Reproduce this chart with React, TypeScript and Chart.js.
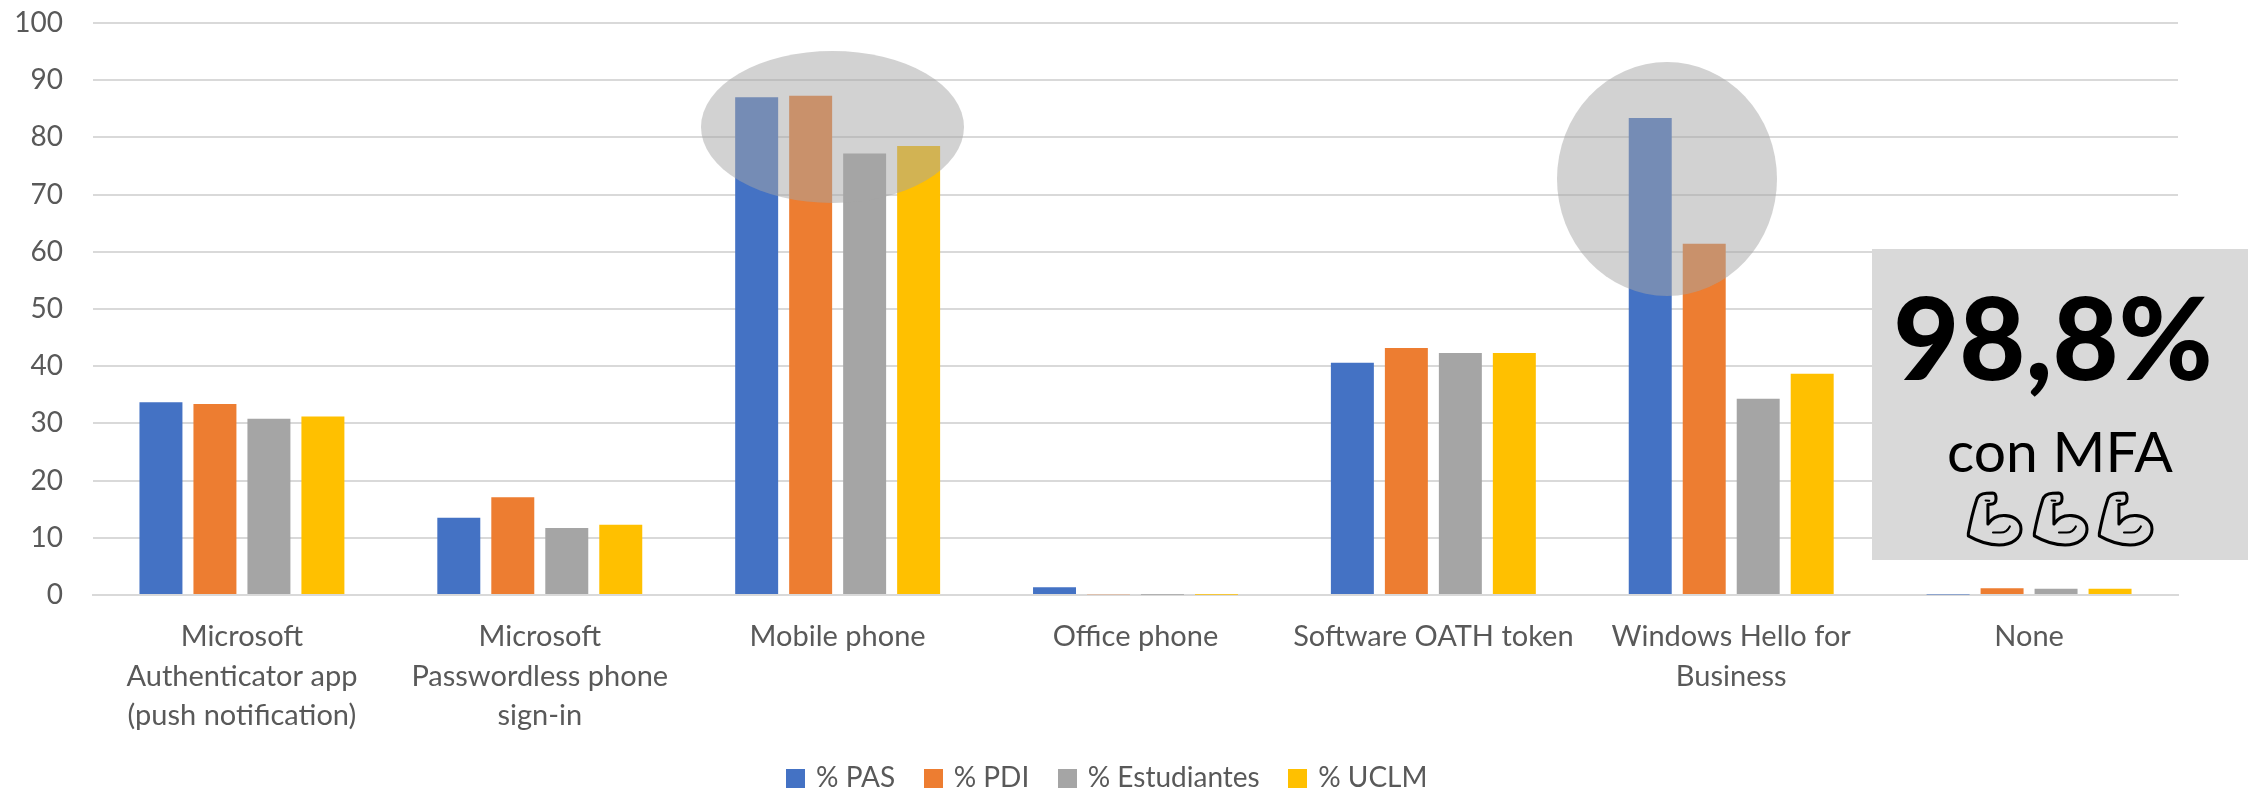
import React, { useEffect, useRef } from "react";
import { Chart, registerables } from "chart.js";

Chart.register(...registerables);

const categories = [
  ["Microsoft", "Authenticator app", "(push notification)"],
  ["Microsoft", "Passwordless phone", "sign-in"],
  "Mobile phone",
  "Office phone",
  "Software OATH token",
  ["Windows Hello for", "Business"],
  "None",
];
const pas = [33.7, 13.5, 87.0, 1.35, 40.6, 83.4, 0.1];
const pdi = [33.4, 17.1, 87.3, 0.15, 43.2, 61.4, 1.2];
const estudiantes = [30.8, 11.7, 77.2, 0.05, 42.3, 34.3, 1.1];
const uclm = [31.2, 12.3, 78.5, 0.05, 42.3, 38.7, 1.1];
const seriesNames = ["% PAS", "% PDI", "% Estudiantes", "% UCLM"];
const seriesColors = ["#4472C4", "#ED7D31", "#A5A5A5", "#FFC000"];

const FONT = "Lato, Carlito, 'Open Sans', sans-serif";
const ARM_OUTLINE =
  "M4 122 C10 90 20 50 28 25 C32 10 42 5 58 4 L76 3 C84 3 86 10 86 20 C86 32 80 36 70 36 L62 37 L62 95 C72 80 90 68 115 70 C145 72 160 90 160 110 C160 135 135 157 95 157 C60 157 25 142 4 130 Z";
const ARM_DETAIL = "M77 120 L100 120 C112 120 122 112 127 102 M55 25 L66 26";

function swatch(color: string) {
  const c = document.createElement("canvas");
  c.width = 19;
  c.height = 19;
  const g = c.getContext("2d")!;
  g.fillStyle = color;
  g.fillRect(0, 0, 19, 19);
  return c;
}

const overlayPlugin = {
  id: "overlay",
  afterLayout(chart: any) {
    chart.legend.left += 19.5;
    chart.legend.right += 19.5;
  },
  afterDraw(chart: any) {
    const ctx = chart.ctx;
    ctx.save();
    ctx.fillStyle = "rgba(165,165,165,0.5)";
    ctx.beginPath();
    ctx.ellipse(832.5, 127, 131.5, 76, 0, 0, Math.PI * 2);
    ctx.fill();
    ctx.beginPath();
    ctx.ellipse(1667, 179, 110, 117, 0, 0, Math.PI * 2);
    ctx.fill();

    ctx.fillStyle = "#D9D9D9";
    ctx.fillRect(1872, 249, 376, 311);

    ctx.fillStyle = "#000000";
    ctx.textAlign = "center";
    ctx.textBaseline = "alphabetic";
    ctx.font = `900 114px ${FONT}`;
    ctx.fillText("98,8%", 2053, 380);
    ctx.font = `57px ${FONT}`;
    ctx.fillText("con MFA", 2060, 472);

    const outline = new Path2D(ARM_OUTLINE);
    const detail = new Path2D(ARM_DETAIL);
    for (const left of [1967, 2033, 2098]) {
      ctx.save();
      ctx.translate(left, 492);
      ctx.scale(0.3375, 0.3375);
      ctx.lineWidth = 9;
      ctx.lineJoin = "round";
      ctx.lineCap = "round";
      ctx.strokeStyle = "#000000";
      ctx.stroke(outline);
      ctx.lineWidth = 6;
      ctx.stroke(detail);
      ctx.restore();
    }
    ctx.restore();
  },
};

export default function App() {
  const ref = useRef<HTMLCanvasElement>(null);
  useEffect(() => {
    const values = [pas, pdi, estudiantes, uclm];
    const chart = new Chart(ref.current!, {
      type: "bar",
      data: {
        labels: categories as any,
        datasets: seriesNames.map((name, i) => ({
          label: name,
          data: values[i],
          backgroundColor: seriesColors[i],
          categoryPercentage: 0.725,
          barPercentage: 0.796,
        })),
      },
      options: {
        responsive: false,
        animation: false,
        layout: { padding: { top: 23, right: 76, bottom: -12, left: 0 } },
        scales: {
          x: {
            grid: { display: false },
            border: { display: true, color: "#D9D9D9", width: 2 },
            ticks: {
              autoSkip: false,
              maxRotation: 0,
              minRotation: 0,
              padding: 14,
              color: "#595959",
              font: { family: FONT, size: 29, lineHeight: 1.36 },
            },
            afterFit: (s: any) => {
              s.height = 137;
            },
          },
          y: {
            min: 0,
            max: 100,
            grid: { color: "#D9D9D9", lineWidth: 2, drawTicks: false },
            border: { display: false },
            ticks: {
              stepSize: 10,
              padding: 30,
              color: "#595959",
              font: { family: FONT, size: 28 },
            },
            afterFit: (s: any) => {
              s.width = 93;
              s.paddingTop = 0;
              s.paddingBottom = 0;
            },
          },
        },
        plugins: {
          title: { display: false },
          tooltip: { enabled: false },
          legend: {
            position: "bottom",
            labels: {
              usePointStyle: true,
              boxWidth: 12.5,
              padding: 32,
              color: "#595959",
              font: { family: FONT, size: 28 },
              generateLabels: (c: any) => {
                const items = Chart.defaults.plugins.legend.labels.generateLabels(c);
                items.forEach((it: any, i: number) => {
                  it.pointStyle = swatch(seriesColors[i]);
                });
                return items;
              },
            },
          },
        },
      },
      plugins: [overlayPlugin],
    } as any);
    return () => chart.destroy();
  }, []);
  return (
    <div style={{ position: "absolute", left: 0, top: 0, width: 2254, height: 790, background: "#fff" }}>
      <canvas ref={ref} width={2254} height={790} style={{ display: "block" }} />
    </div>
  );
}
